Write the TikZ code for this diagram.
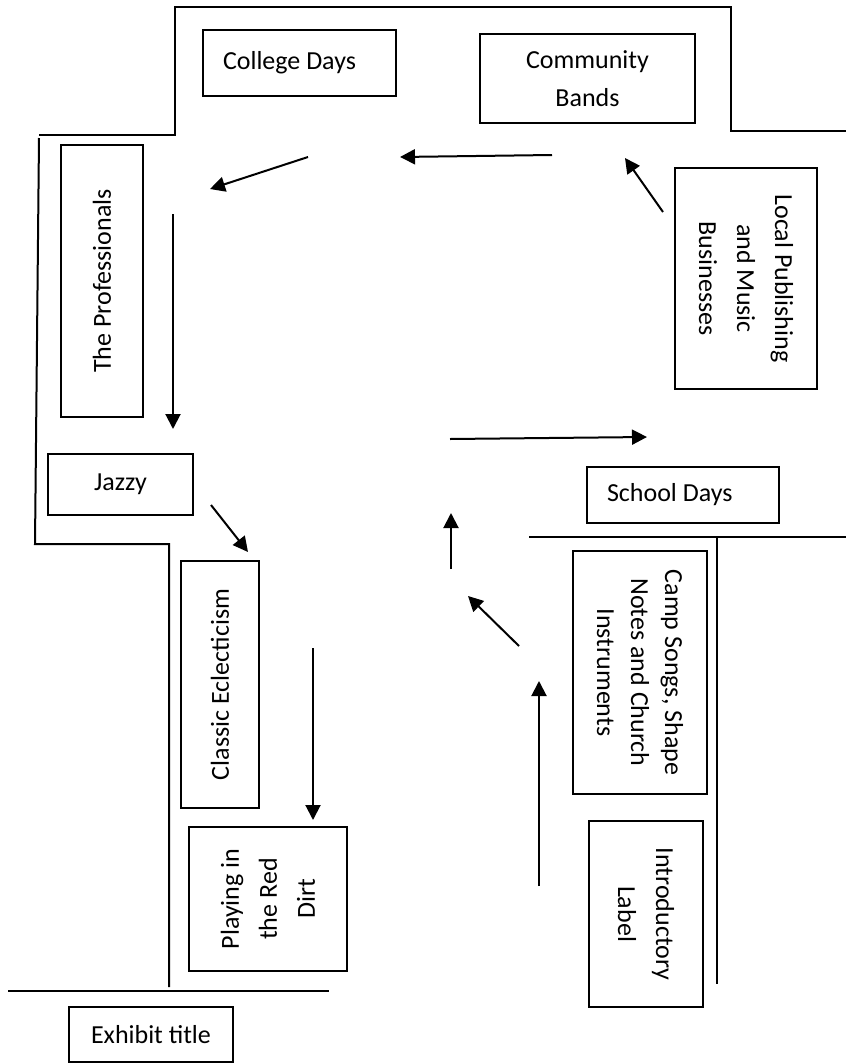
\documentclass[tikz,border=0pt]{standalone}
\usepackage{fontspec}
\setmainfont{Carlito}
\usetikzlibrary{arrows.meta}

\begin{document}
\begin{tikzpicture}[x=1pt,y=-1pt,
  box/.style={draw,line width=2pt,align=center,font=\fontsize{26}{38}\selectfont},
  wall/.style={line width=2pt},
  flow/.style={line width=2pt,-{Triangle[length=15pt,width=15pt]}}]
\useasboundingbox (0,0) rectangle (846,1063);
% walls of the room
\draw[wall] (39,135)--(175,135)--(175,7)--(731,7)--(731,131)--(846,131);
\draw[wall] (39,138)--(35,544)--(169,544)--(169,987);
\draw[wall] (8,991)--(329,991);
\draw[wall] (529,537)--(846,537);\draw[wall] (717,537)--(717,984);
% panels
\node[box,minimum height=66,inner xsep=20,text width=153,align=flush left] (college) at (299.5,63) {College Days};
\node[box,minimum width=215,minimum height=89] (community) at (587.5,78.5) {Community\\Bands};
\node[box,rotate=90,minimum width=272,minimum height=82] (prof) at (102,281) {The Professionals};
\node[box,rotate=-90,minimum width=221,minimum height=142] (local) at (746,278.5) {Local Publishing\\and Music\\Businesses};
\node[box,minimum width=145,minimum height=61] (jazzy) at (120.5,484.5) {Jazzy};
\node[box,minimum height=56,inner xsep=20,text width=152,align=flush left] (school) at (683,495) {School Days};
\node[box,rotate=90,minimum width=247,minimum height=78] (classic) at (220,684.5) {Classic Eclecticism};
\node[box,rotate=90,minimum width=144,minimum height=158] (playing) at (268,899) {Playing in\\the Red\\Dirt};
\node[box,rotate=-90,minimum width=243,minimum height=134,font=\fontsize{26}{34}\selectfont] (camp) at (640,672.5) {Camp Songs, Shape\\Notes and Church\\Instruments};
\node[box,rotate=-90,minimum width=186,minimum height=114] (intro) at (646,914) {Introductory\\Label};
\node[box,minimum width=164,minimum height=55] (exhibit) at (151,1034.5) {Exhibit title};
% visitor path
\foreach \n/\xa/\ya/\xb/\yb in {a/308/157/210/189, b/552/155/400/157, c/663/212/625/158,
  d/173/214/173/429, e/211/505/248/552, f/313/648/313/820, g/450/439/647/437,
  h/451/569/451/513, i/519/646/468/596, j/539/886/539/681}{
  \coordinate (\n s) at (\xa,\ya);\coordinate (\n e) at (\xb,\yb);
  \draw[flow] (\n s)--(\n e);}
\end{tikzpicture}
\end{document}
